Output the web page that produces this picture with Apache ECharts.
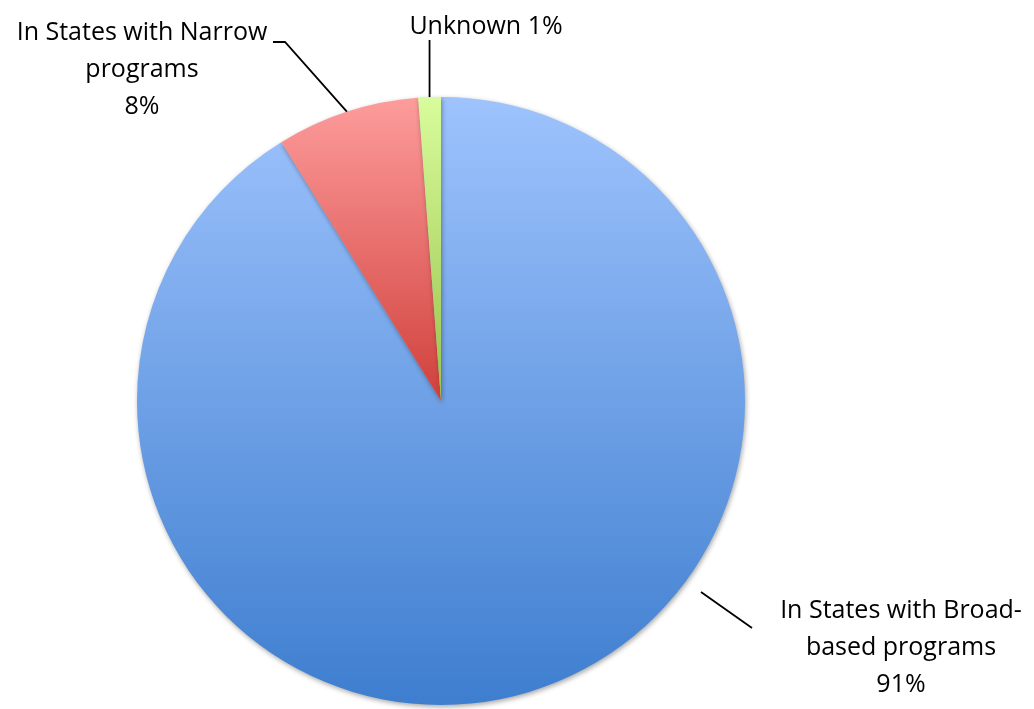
<!DOCTYPE html>
<html>
<head>
<meta charset="utf-8">
<script src="https://cdn.jsdelivr.net/npm/echarts@6/dist/echarts.min.js"></script>
<style>html,body{margin:0;padding:0;background:#fff;}#chart{width:1034px;height:709px;}</style>
</head>
<body>
<div id="chart"></div>
<script>
const categories = ['In States with Broad-\nbased programs', 'In States with Narrow\nprograms', 'Unknown'];
const values = [91.2, 7.6, 1.2];
const topColors = ['#9ec3fd', '#fd9c9c', '#d9fc9c'];
const bottomColors = ['#3e7ecf', '#d0403b', '#98c24c'];
const labelPos = [
  {x: 901, y: 592},
  {x: 142, y: 14},
  {x: 486, y: 8}
];

const chart = echarts.init(document.getElementById('chart'));
const data = categories.map((c, i) => ({
  name: c,
  value: values[i],
  itemStyle: {
    color: new echarts.graphic.LinearGradient(0, 0, 0, 1, [
      {offset: 0, color: topColors[i]},
      {offset: 1, color: bottomColors[i]}
    ])
  },
  label: {
    formatter: i === 2 ? '{b} {d}%' : '{b}\n{d}%'
  }
}));
chart.setOption({
  animation: false,
  series: [{
    type: 'pie',
    center: [441, 401],
    radius: 304,
    startAngle: 90,
    clockwise: true,
    percentPrecision: 0,
    data: data,
    itemStyle: {
      shadowBlur: 5,
      shadowOffsetX: 1,
      shadowOffsetY: 2,
      shadowColor: 'rgba(0,0,0,0.35)'
    },
    label: {
      show: true,
      position: 'outside',
      fontFamily: 'Open Sans',
      fontSize: 25,
      lineHeight: 37,
      color: '#000'
    },
    labelLine: {
      show: true,
      length: 20,
      length2: 10,
      lineStyle: {color: '#000', width: 1.8}
    },
    labelLayout: function (p) {
      const i = p.dataIndex;
      const lp = labelPos[i];
      const s = p.labelLinePoints ? p.labelLinePoints[0] : [0, 0];
      let pts;
      if (i === 0) {
        pts = [[701, 592], [752, 628]];
      } else if (i === 1) {
        pts = [s, [285, 42], [273, 42]];
      } else {
        pts = [s, [s[0], 40]];
      }
      return {x: lp.x, y: lp.y, align: 'center', verticalAlign: 'top', labelLinePoints: pts};
    }
  }]
});
</script>
</body>
</html>
